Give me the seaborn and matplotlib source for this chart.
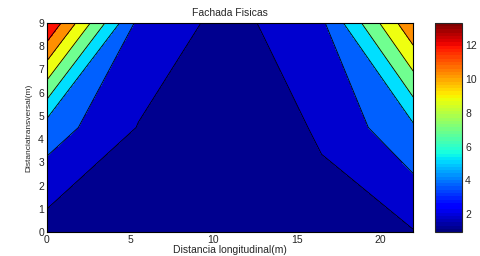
import numpy as np
import matplotlib
matplotlib.use("Agg")
import matplotlib.pyplot as plt
import seaborn as sns

# grid nodes (m) and values
x_nodes = [0, 5.5, 11, 16.5, 22]
y_nodes = [0, 4.5, 9]
z_bottom = [1.80, 1.30, 0.93, 1.84, 2.40]
z_middle = [4.88, 2.42, 1.22, 2.70, 5.31]
z_top = [13.33, 3.61, 1.96, 3.73, 11.58]

band_colors = ['#00008F', '#0000CF', '#0060FF', '#00DFFF',
               '#70FF90', '#EFFF10', '#FF8F00', '#FF1000']
cbar_ticks = [2, 4, 6, 8, 10, 12]

sns.set_style("ticks")
plt.rcParams['font.family'] = ['Liberation Sans', 'DejaVu Sans']

Z = np.array([z_bottom, z_middle, z_top])
X, Y = np.meshgrid(x_nodes, y_nodes)
zmin, zmax = Z.min(), Z.max()
levels = np.linspace(zmin, zmax, 9)

fig = plt.figure(figsize=(4.81, 2.56), dpi=100)
ax = fig.add_axes([0.0971, 0.0926, 0.762, 0.8188])
cax = fig.add_axes([0.9044, 0.0926, 0.0568, 0.8188])

ax.contourf(X, Y, Z, levels=levels, colors=band_colors, extend='both')
ax.contour(X, Y, Z, levels=levels[1:-1], colors='k', linewidths=0.6)

ax.set_xlim(0, 22)
ax.set_ylim(0, 9)
ax.set_xticks([0, 5, 10, 15, 20])
ax.set_yticks(range(10))
ax.tick_params(direction='in', top=True, right=True, length=3, width=0.6,
               labelsize=7.5, pad=2)
for s in ax.spines.values():
    s.set_linewidth(0.8)
    s.set_color('black')
ax.set_title('Fachada Fisicas', fontsize=7.5, pad=5)
ax.set_xlabel('Distancia longitudinal(m)', fontsize=7.5, labelpad=0)
ax.set_ylabel('Distanciatransversal(m)', fontsize=6, labelpad=4)

sm = plt.cm.ScalarMappable(norm=plt.Normalize(zmin, zmax), cmap=plt.get_cmap('jet', 64))
cb = fig.colorbar(sm, cax=cax)
cb.set_ticks(cbar_ticks)
cb.outline.set_linewidth(0.8)
cax.tick_params(direction='in', left=True, right=True, labelleft=False,
                labelright=True, length=3, width=0.6, labelsize=7.5, pad=2)

fig.savefig('out.png', dpi=100)
